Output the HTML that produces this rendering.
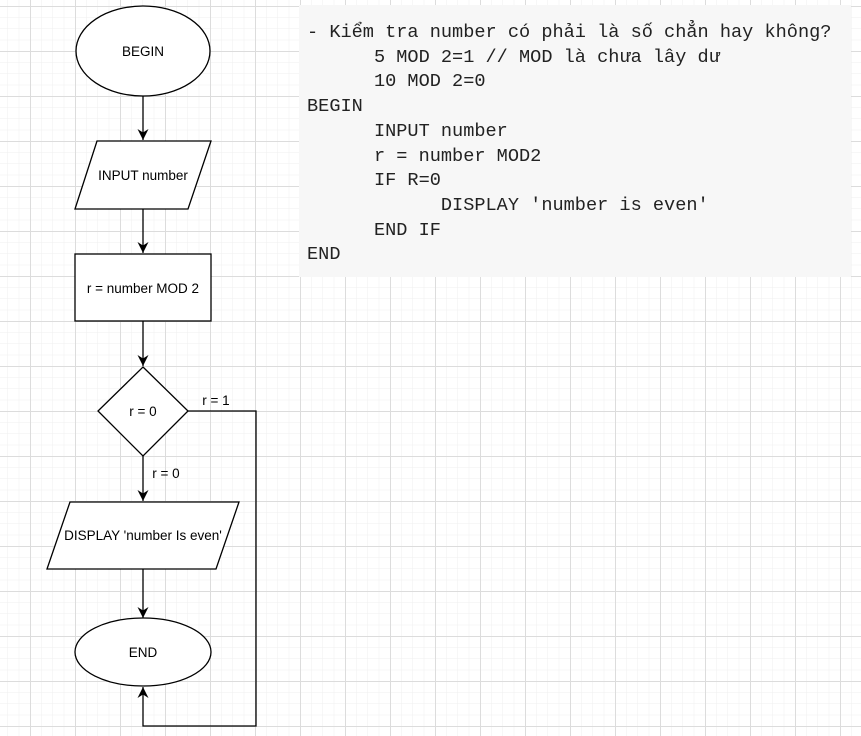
<!DOCTYPE html>
<html><head><meta charset="utf-8"><style>
html,body{margin:0;padding:0;width:861px;height:736px;overflow:hidden;background:#fff}
svg{position:absolute;left:0;top:0}
.p{position:absolute;left:299px;top:5px;width:552px;height:272px;background:#f7f7f7}
pre{position:absolute;left:307px;top:21px;margin:0;font-family:"Liberation Mono","DejaVu Sans Mono",monospace;font-size:18.6px;line-height:24.7px;color:#222}
</style></head><body>
<svg width="861" height="736">
<defs>
<pattern id="mi" width="11.25" height="11.25" patternUnits="userSpaceOnUse" x="7.5" y="6">
<path d="M0 0H11.25M0 0V11.25" stroke="#efefef" stroke-width="1" fill="none"/></pattern>
<pattern id="ma" width="45" height="45" patternUnits="userSpaceOnUse" x="30" y="6">
<path d="M0 0.5H45M0.5 0V45" stroke="#dcdcdc" stroke-width="1" fill="none"/></pattern>
<marker id="ar" markerWidth="12" markerHeight="12" refX="11" refY="5.5" orient="auto" markerUnits="userSpaceOnUse"><path d="M0 0L11 5.5L0 11L3.5 5.5Z" fill="#000"/></marker>
</defs>
<rect width="861" height="736" fill="url(#mi)"/>
<rect width="861" height="736" fill="url(#ma)"/>
<g stroke="#000" stroke-width="1.3" fill="#fff">
<ellipse cx="143" cy="51" rx="67" ry="45"/>
<polygon points="97,141 211,141 188,209 75,209"/>
<rect x="75" y="254" width="136" height="67"/>
<polygon points="143,367 188,411 143,456 98,411"/>
<polygon points="70,502 239,502 216,569 47,569"/>
<ellipse cx="143" cy="652" rx="68" ry="34"/>
<g fill="none">
<path d="M143 96V140" marker-end="url(#ar)"/>
<path d="M143 209V253" marker-end="url(#ar)"/>
<path d="M143 321V366" marker-end="url(#ar)"/>
<path d="M143 456V501" marker-end="url(#ar)"/>
<path d="M143 569V618" marker-end="url(#ar)"/>
<path d="M188 411H256V726H143V687" marker-end="url(#ar)"/>
</g></g>
<g font-family="Liberation Sans, Arial, sans-serif" font-size="13.5" fill="#000" text-anchor="middle">
<text x="143" y="56">BEGIN</text>
<text x="143" y="180">INPUT number</text>
<text x="143" y="293">r = number MOD 2</text>
<text x="143" y="416">r = 0</text>
<text x="143" y="540">DISPLAY 'number Is even'</text>
<text x="143" y="657">END</text>
<text x="216" y="405">r = 1</text>
<text x="166" y="478">r = 0</text>
</g>
</svg>
<div class="p"></div>
<pre>- Kiểm tra number có phải là số chẳn hay không?
      5 MOD 2=1 // MOD là chưa lây dư
      10 MOD 2=0
BEGIN
      INPUT number
      r = number MOD2
      IF R=0
            DISPLAY 'number is even'
      END IF
END</pre>
</body></html>
